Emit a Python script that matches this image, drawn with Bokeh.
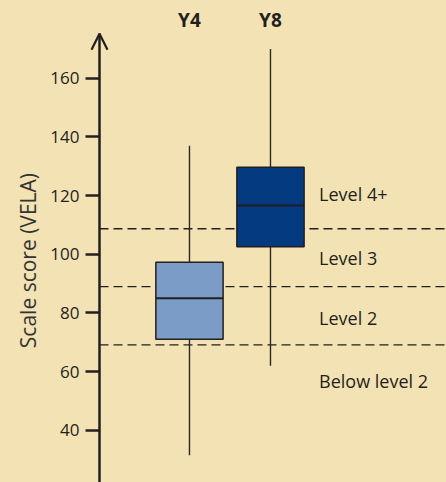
from bokeh.plotting import figure
from bokeh.models import (Arrow, OpenHead, FixedTicker, ColumnDataSource, LinearAxis,
                          CustomJSTickFormatter)
from bokeh.core.properties import value
from bokeh.embed import file_html
from bokeh.resources import INLINE

# ---- data ----
groups = ["Y4", "Y8"]
group_x = [1, 2]
whisker_low = [31.5, 62.0]
q1 = [71.0, 102.6]
median = [85.0, 116.6]
q3 = [97.3, 129.7]
whisker_high = [137.0, 170.0]
box_colors = ["#7b9cc6", "#033a80"]

cut_points = [69.1, 89.0, 108.7]
level_labels = ["Below level 2", "Level 2", "Level 3", "Level 4+"]
y_ticks = [40, 60, 80, 100, 120, 140, 160]

# ---- layout constants ----
BG = "#f3e3b4"
INK = "#231f20"
FONT = "Open Sans"
Y_MIN, Y_MAX = 22.2, 186.5
X_MIN, X_MAX = -0.296, 4.173
AXIS_X = -0.111
AXIS_TOP = 175.2
BOX_W = 0.83
LABEL_X = 2.60
label_y = [56.8, 78.4, 98.6, 120.4]
HEADER_Y = 179.7

p = figure(width=446, height=482, output_backend="svg", toolbar_location=None,
           x_range=(X_MIN, X_MAX), y_range=(Y_MIN, Y_MAX),
           min_border_left=84, min_border_right=0, min_border_top=0, min_border_bottom=0)
p.background_fill_color = BG
p.border_fill_color = BG
p.outline_line_color = None
p.grid.visible = False
p.xaxis.visible = False

# axis carrying the tick labels and the title (in the left panel)
ax = p.yaxis[0]
ax.ticker = FixedTicker(ticks=y_ticks)
ax.axis_line_color = None
ax.major_tick_line_color = None
ax.major_tick_out = 0
ax.major_tick_in = 0
ax.minor_tick_line_color = None
ax.major_label_text_font = FONT
ax.major_label_text_font_size = "17px"
ax.major_label_text_color = INK
ax.major_label_standoff = 5
ax.axis_label = "Scale score (VELA)" + "\u00a0" * 7
ax.axis_label_text_font = FONT
ax.axis_label_text_font_size = "21px"
ax.axis_label_text_font_style = "normal"
ax.axis_label_text_color = "#333333"
ax.axis_label_standoff = 5

# axis line and ticks, fixed at the axis position inside the frame
rule = LinearAxis(fixed_location=AXIS_X, ticker=FixedTicker(ticks=y_ticks),
                  bounds=(Y_MIN, AXIS_TOP),
                  formatter=CustomJSTickFormatter(code="return ''"),
                  axis_line_color=INK, axis_line_width=2.5,
                  major_tick_line_color=INK, major_tick_line_width=2.5,
                  major_tick_in=14, major_tick_out=0, minor_tick_line_color=None,
                  major_label_standoff=0)
p.add_layout(rule, "right")

# arrow head on the axis
p.add_layout(Arrow(x_start=AXIS_X, y_start=AXIS_TOP - 1, x_end=AXIS_X, y_end=AXIS_TOP,
                   line_alpha=0, line_width=2.5,
                   end=OpenHead(size=16, line_width=2.2, line_color=INK)))

# level cut lines, from the axis to the right edge
p.segment(x0=[AXIS_X] * len(cut_points), x1=[X_MAX] * len(cut_points),
          y0=cut_points, y1=cut_points, line_color=INK, line_width=1.3, line_dash="9 5")

src = ColumnDataSource(dict(x=group_x, g=groups, lo=whisker_low, q1=q1, med=median,
                            q3=q3, hi=whisker_high, color=box_colors,
                            left=[x - BOX_W / 2 for x in group_x],
                            right=[x + BOX_W / 2 for x in group_x],
                            hy=[HEADER_Y] * len(groups)))

# whiskers
p.segment(x0="x", y0="q3", x1="x", y1="hi", source=src, line_color="#2b2a22", line_width=1.4)
p.segment(x0="x", y0="lo", x1="x", y1="q1", source=src, line_color="#2b2a22", line_width=1.4)
# boxes
p.vbar(x="x", width=BOX_W, bottom="q1", top="q3", source=src, fill_color="color",
       line_color=INK, line_width=1.5)
# medians
p.segment(x0="left", y0="med", x1="right", y1="med", source=src, line_color=INK, line_width=2)

# headers
p.text(x="x", y="hy", text="g", source=src, text_font=value(FONT), text_font_style="bold",
       text_font_size="19px", text_color=INK, text_align="center", text_baseline="middle")

# level labels
p.text(x=[LABEL_X] * len(level_labels), y=label_y, text=level_labels, text_font=value(FONT),
       text_font_size="18px", text_color=INK, text_align="left", text_baseline="middle")

html = file_html(p, INLINE)
style = "<style>html,body{margin:0;padding:0;background:%s;overflow:hidden;}</style>" % BG
html = html.replace("</head>", style + "</head>", 1)
open("out.html", "w").write(html)
